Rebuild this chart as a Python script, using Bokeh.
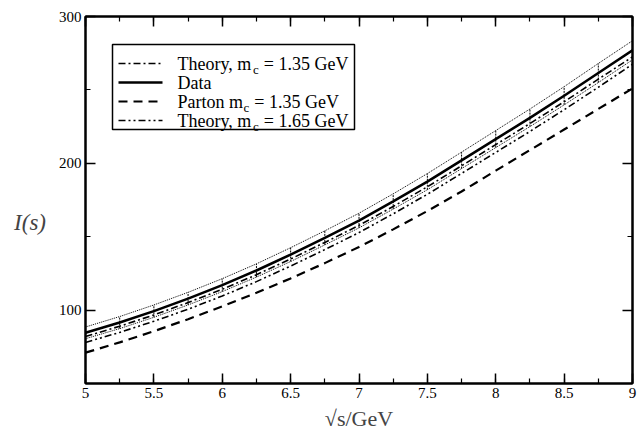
from bokeh.plotting import figure
from bokeh.models import (LinearAxis, FixedTicker, SingleIntervalTicker, Range1d,
                          CustomJSTickFormatter)
from bokeh.core.properties import value
from bokeh.embed import file_html
from bokeh.resources import INLINE

# ---- data ----
sqrt_s = [5.0, 5.25, 5.5, 5.75, 6.0, 6.25, 6.5, 6.75, 7.0,
          7.25, 7.5, 7.75, 8.0, 8.25, 8.5, 8.75, 9.0]
data_I = [84.5, 91.5, 99.3, 107.8, 117.0, 127.0, 137.8, 149.2, 161.0,
          174.0, 187.5, 202.0, 216.5, 231.0, 246.0, 261.5, 277.0]
data_upper = [88.5, 95.6, 103.5, 112.1, 121.4, 131.5, 142.5, 154.0, 166.0,
              179.2, 193.0, 207.6, 222.3, 237.0, 252.2, 268.0, 283.5]
data_lower = [80.5, 87.4, 95.1, 103.5, 112.6, 122.5, 133.1, 144.4, 156.0,
              168.8, 182.0, 196.4, 210.7, 225.0, 239.8, 255.0, 270.5]
theory_135 = [82.0, 89.0, 96.7, 105.1, 114.2, 124.1, 134.8, 146.1, 157.7,
              170.6, 184.0, 198.3, 212.7, 227.1, 241.9, 257.3, 272.5]
theory_165 = [78.0, 84.8, 92.4, 100.6, 109.6, 119.4, 130.0, 141.2, 152.8,
              165.6, 178.9, 193.1, 207.4, 221.7, 236.5, 251.8, 267.5]
parton_135 = [71.0, 78.0, 85.6, 93.8, 102.5, 111.8, 121.6, 132.0, 143.0,
              155.0, 167.5, 180.8, 195.0, 209.0, 223.0, 237.0, 251.0]

x_major = 0.5
y_major_ticks = [100, 200, 300]
y_minor_ticks = [50, 150, 250]

legend_labels = [("Theory, m", "c", "= 1.35 GeV"),
                 ("Data", "", ""),
                 ("Parton m", "c", "= 1.35 GeV"),
                 ("Theory, m", "c", "= 1.65 GeV")]

SERIF = "Liberation Serif"

p = figure(width=637, height=436, output_backend="svg", toolbar_location=None,
           x_range=Range1d(5, 9), y_range=Range1d(50, 300),
           min_border_left=85, min_border_right=5, min_border_top=16,
           min_border_bottom=53, background_fill_color="white",
           border_fill_color="white")
p.grid.visible = False
p.outline_line_color = "black"
p.outline_line_width = 2

xt = SingleIntervalTicker(interval=x_major, num_minor_ticks=2)
yt = FixedTicker(ticks=y_major_ticks, minor_ticks=y_minor_ticks)

def style_axis(ax):
    ax.axis_line_width = 2
    ax.axis_line_color = "black"
    ax.major_tick_in = 10
    ax.major_tick_out = 0
    ax.minor_tick_in = 5
    ax.minor_tick_out = 0
    ax.major_tick_line_width = 1.5
    ax.minor_tick_line_width = 1.2
    ax.major_label_text_font = SERIF
    ax.major_label_text_font_size = "15px"
    ax.major_label_text_color = "black"

xa = p.xaxis[0]
xa.ticker = xt
style_axis(xa)
xa.major_label_standoff = 4
xa.axis_label = "\u221As/GeV"
xa.axis_label_text_font = SERIF
xa.axis_label_text_font_style = "normal"
xa.axis_label_text_font_size = "22px"
xa.axis_label_standoff = 5

ya = p.yaxis[0]
ya.ticker = yt
style_axis(ya)
ya.major_label_standoff = 4
ya.axis_label = "\nI(s)"
ya.axis_label_orientation = "horizontal"
ya.axis_label_text_font = SERIF
ya.axis_label_text_font_style = "italic"
ya.axis_label_text_font_size = "23px"
ya.axis_label_text_line_height = 1.8
ya.axis_label_standoff = 10

blank = CustomJSTickFormatter(code="return ''")
top = LinearAxis(ticker=xt, formatter=blank)
style_axis(top)
p.add_layout(top, "above")
right = LinearAxis(ticker=yt, formatter=blank)
style_axis(right)
p.add_layout(right, "right")

def px_to_x(px):
    return 5 + (px - 85) / 136.75

def py_to_y(py):
    return 50 + (383 - py) / 1.468

# ---- error band drawn as boxes ----
p.line(sqrt_s, data_upper, line_color="black", line_width=1, line_dash="1 1")
p.line(sqrt_s, data_lower, line_color="black", line_width=1, line_dash="1 1")
p.segment(x0=sqrt_s, y0=data_lower, x1=sqrt_s, y1=data_upper,
          line_color="black", line_width=1, line_dash="2 1")

# ---- curves ----
p.line(sqrt_s, parton_135, line_color="black", line_width=2.2, line_dash="9 6")
p.line(sqrt_s, theory_165, line_color="black", line_width=1.6,
       line_dash="7 3 2 3 2 3")
p.line(sqrt_s, theory_135, line_color="black", line_width=1.6,
       line_dash="7 3 2 3")
p.line(sqrt_s, data_I, line_color="black", line_width=2.6)

# ---- custom legend ----
box_l, box_r, box_t, box_b = px_to_x(112), px_to_x(354), py_to_y(44), py_to_y(129)
p.quad(left=[box_l], right=[box_r], top=[box_t], bottom=[box_b],
       fill_color="white", line_color="black", line_width=1.5)

row_py = [63, 82, 101, 120]
dashes = ["7 3 2 3", "solid", "9 6", "7 3 2 3 2 3"]
widths = [1.6, 2.6, 2.2, 1.6]
fs = 18
sub_fs = 13
em = {"Theory, m": 4.166, "Parton m": 3.639}
for (a, sub, b), py, dsh, w in zip(legend_labels, row_py, dashes, widths):
    yy = py_to_y(py)
    p.line([px_to_x(118), px_to_x(162)], [yy, yy], line_color="black",
           line_width=w, line_dash=dsh)
    tx = px_to_x(177)
    p.text(x=[tx], y=[yy], text=[a], text_font=value(SERIF),
           text_font_size=f"{fs}px", text_baseline="middle", text_color="black")
    if sub:
        off = em[a] * fs + 0.5
        p.text(x=[tx], y=[yy], text=[sub], x_offset=off, y_offset=6,
               text_font=value(SERIF), text_font_size=f"{sub_fs}px",
               text_baseline="middle", text_color="black")
        off2 = off + 0.444 * sub_fs + 0.28 * fs
        p.text(x=[tx], y=[yy], text=[b], x_offset=off2,
               text_font=value(SERIF), text_font_size=f"{fs}px",
               text_baseline="middle", text_color="black")

open("out.html", "w").write(file_html(p, INLINE))
